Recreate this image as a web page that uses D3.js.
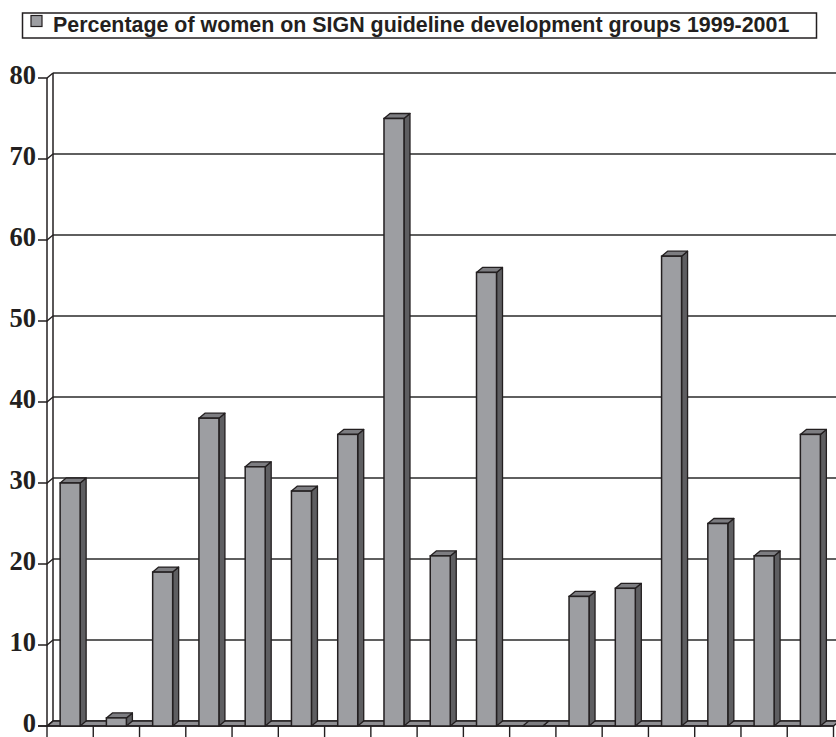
<!DOCTYPE html>
<html>
<head>
<meta charset="utf-8">
<script src="https://cdn.jsdelivr.net/npm/d3@7"></script>
<style>
  html, body { margin: 0; padding: 0; background: #fff; }
  svg { display: block; }
</style>
</head>
<body>
<svg id="chart" width="836" height="737"></svg>
<script>
// ---- data ----
const categories = ["1","2","3","4","5","6","7","8","9","10","11","12","13","14","15","16","17"];
const values = [30, 1, 19, 38, 32, 29, 36, 75, 21, 56, 0, 16, 17, 58, 25, 21, 36];
const yTicks = [0, 10, 20, 30, 40, 50, 60, 70, 80];
const seriesName = "Percentage of women on SIGN guideline development groups 1999-2001";

// ---- layout ----
const W = 836, H = 737;
const svg = d3.select("#chart");
const DX = 6, DY = -5;           // 3D depth offset
const stroke = "#231f20";
const frontFill = "#9d9ea2", sideFill = "#5e5e61", topFill = "#7d7d81", floorFill = "#8e8e92";

const x = d3.scaleBand().domain(categories).range([47, 833.5]).paddingInner(0).paddingOuter(0);
const y = d3.scaleLinear().domain([0, 80]).range([726, 78]);
const barW = 20;

// ---- legend ----
const lg = svg.append("g");
lg.append("rect").attr("x", 22.5).attr("y", 13).attr("width", 794).attr("height", 25)
  .attr("fill", "#fff").attr("stroke", stroke).attr("stroke-width", 1.5);
lg.append("rect").attr("x", 31).attr("y", 15.5).attr("width", 11).attr("height", 11)
  .attr("fill", frontFill).attr("stroke", stroke).attr("stroke-width", 1.2);
const lt = lg.append("text").attr("x", 53).attr("y", 31.5)
  .attr("font-family", "Liberation Sans, Arial, sans-serif").attr("font-weight", "bold")
  .attr("font-size", 17).attr("fill", stroke).text(seriesName);
const tl = lt.node().getComputedTextLength();
lt.attr("font-size", 17 * 737 / tl);

// ---- back wall & gridlines ----
const x0 = x.range()[0], x1 = x.range()[1];
const back = svg.append("g");
back.selectAll("line.grid").data(yTicks).join("line")
  .attr("class", "grid")
  .attr("x1", x0 + DX).attr("x2", W + 5)
  .attr("y1", d => y(d) + DY).attr("y2", d => y(d) + DY)
  .attr("stroke", "#2a2a2a").attr("stroke-width", 1.5);
back.append("line").attr("x1", x0 + DX).attr("x2", x0 + DX)
  .attr("y1", y(80) + DY).attr("y2", y(0) + DY)
  .attr("stroke", stroke).attr("stroke-width", 1.5);

// floor
svg.append("path")
  .attr("d", `M${x0},${y(0)}L${x1},${y(0)}L${x1 + DX},${y(0) + DY}L${x0 + DX},${y(0) + DY}Z`)
  .attr("fill", floorFill).attr("stroke", stroke).attr("stroke-width", 1.4);

// ---- left wall (front axis) ----
const axisG = svg.append("g");
axisG.append("line").attr("x1", x0).attr("x2", x0).attr("y1", y(80)).attr("y2", y(0))
  .attr("stroke", stroke).attr("stroke-width", 1.5);
axisG.selectAll("path.tk").data(yTicks).join("path")
  .attr("class", "tk")
  .attr("d", d => `M${x0 - 9},${y(d)}L${x0},${y(d)}L${x0 + DX},${y(d) + DY}`)
  .attr("fill", "none").attr("stroke", stroke).attr("stroke-width", 1.4);
axisG.selectAll("text.yl").data(yTicks).join("text")
  .attr("class", "yl")
  .attr("x", 36).attr("y", d => y(d) + 6)
  .attr("text-anchor", "end")
  .attr("font-family", "Liberation Serif, Times New Roman, serif")
  .attr("font-weight", "bold").attr("font-size", 26.5).attr("fill", stroke)
  .text(d => d);

// x-axis ticks (category boundaries)
const bounds = categories.map(c => x(c)).concat([x1]);
axisG.selectAll("line.xt").data(bounds).join("line")
  .attr("class", "xt")
  .attr("x1", d => d).attr("x2", d => d).attr("y1", y(0)).attr("y2", y(0) + 12)
  .attr("stroke", stroke).attr("stroke-width", 1.4);
axisG.append("line").attr("x1", x0 - 9).attr("x2", x1).attr("y1", y(0)).attr("y2", y(0))
  .attr("stroke", stroke).attr("stroke-width", 1.5);

// ---- bars ----
const bars = svg.append("g").selectAll("g.bar").data(categories.map((c, i) => ({c, v: values[i]}))).join("g")
  .attr("class", "bar");
bars.each(function(d) {
  const g = d3.select(this);
  const bx = x(d.c) + x.bandwidth() / 2 - barW / 2;
  const yt = y(d.v), yb = y(0);
  g.append("path")
    .attr("d", `M${bx + barW},${yb}L${bx + barW + DX},${yb + DY}L${bx + barW + DX},${yt + DY}L${bx + barW},${yt}Z`)
    .attr("fill", sideFill).attr("stroke", stroke).attr("stroke-width", 1.3).attr("stroke-linejoin", "round");
  g.append("path")
    .attr("d", `M${bx},${yt}L${bx + DX},${yt + DY}L${bx + barW + DX},${yt + DY}L${bx + barW},${yt}Z`)
    .attr("fill", topFill).attr("stroke", stroke).attr("stroke-width", 1.3).attr("stroke-linejoin", "round");
  if (d.v > 0) {
    g.append("rect").attr("x", bx).attr("y", yt).attr("width", barW).attr("height", yb - yt)
      .attr("fill", frontFill).attr("stroke", stroke).attr("stroke-width", 1.5);
  }
});
</script>
</body>
</html>
